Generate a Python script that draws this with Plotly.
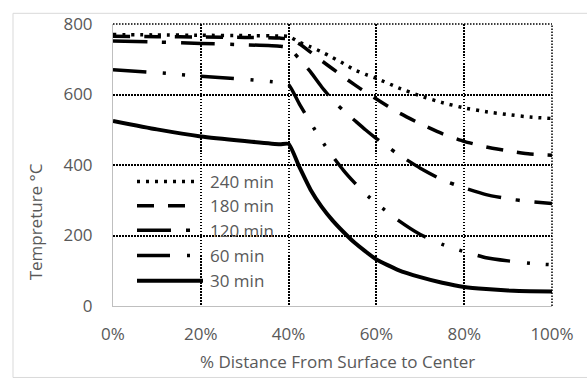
import plotly.graph_objects as go

# ---- data ----
x_pct = [0, 10, 20, 30, 38, 40, 42.5, 45, 47.5, 50, 52.5, 55, 57.5, 60, 65, 70, 75, 80, 85, 90, 95, 100]
t240 = [770, 769, 768, 767, 766, 765, 748, 735, 721, 705, 688, 670, 657, 646, 619, 596, 577, 562, 551, 543, 536, 532]
t180 = [765, 764, 763, 762, 760, 758, 743, 720, 696, 673, 650, 628, 607, 587, 549, 517, 489, 467, 451, 440, 431, 428]
t120 = [752, 749, 745, 741, 737, 733, 700, 664, 622, 585, 554, 527, 500, 475, 430, 391, 358, 335, 316, 304, 296, 291]
t60 = [670, 662, 652, 643, 634, 628, 572, 520, 470, 425, 385, 350, 318, 291, 243, 203, 175, 154, 137, 128, 121, 117]
t30 = [525, 501, 481, 468, 459, 460, 393, 330, 282, 243, 210, 180, 155, 132, 102, 82, 66, 54, 48, 44, 42, 41]

series_names = ["240 min", "180 min", "120 min", "60 min", "30 min"]
series_vals = [t240, t180, t120, t60, t30]
series_dash = ["3px,6px", "17px,14px", "34px,15px,4px,15px",
               "33px,17px,3px,16px,3px,16px", "solid"]
series_width = [3.5, 3.5, 3.5, 3.5, 4]

x_ticks = [0, 20, 40, 60, 80, 100]
x_ticktext = ["0%", "20%", "40%", "60%", "80%", "100%"]
y_ticks = [0, 200, 400, 600, 800]

W, H = 587, 381
L, R, T, B = 113, 552, 16, 306


def px_x(p):
    return (p - L) / (R - L)


def px_y(p):
    return (B - p) / (B - T)


TXT = "#595959"
FONT = "Open Sans"
FS = 17
GRID_DASH = "1.5px,1.5px"

fig = go.Figure()
for name, vals, dash, w in zip(series_names, series_vals, series_dash, series_width):
    fig.add_trace(go.Scatter(
        x=x_pct, y=vals, mode="lines", name=name,
        line=dict(color="black", width=w, dash=dash, shape="spline", smoothing=0.5),
        showlegend=False, hoverinfo="skip",
    ))

shapes = []
annotations = []
# manual legend inside the plot
leg_y = [178, 203, 228, 254, 280]
for i, (name, dash, w) in enumerate(zip(series_names, series_dash, series_width)):
    yy = px_y(leg_y[i])
    x_end = 203 if dash == "solid" else 199
    shapes.append(dict(type="line", xref="paper", yref="paper",
                       x0=px_x(137), x1=px_x(x_end), y0=yy, y1=yy,
                       line=dict(color="black", width=w, dash=dash)))
    annotations.append(dict(text=name, xref="paper", yref="paper",
                            x=px_x(208), y=yy, xanchor="left", yanchor="middle",
                            showarrow=False, font=dict(family=FONT, size=FS, color=TXT)))

# dotted top and right frame lines (grid at 800 and 100%)
shapes.append(dict(type="line", xref="paper", yref="paper", x0=0, x1=1, y0=1, y1=1,
                   line=dict(color="black", width=1.5, dash=GRID_DASH), layer="below"))
shapes.append(dict(type="line", xref="paper", yref="paper", x0=1, x1=1, y0=0, y1=1,
                   line=dict(color="black", width=1.5, dash=GRID_DASH), layer="below"))

# outer chart border
shapes.append(dict(type="rect", xref="paper", yref="paper",
                   x0=px_x(13), x1=px_x(600), y0=px_y(379.5), y1=px_y(5),
                   line=dict(color="#d9d9d9", width=1), layer="below"))

# axis titles
annotations.append(dict(text="% Distance From Surface to Center", xref="paper", yref="paper",
                        x=px_x(337), y=px_y(363), xanchor="center", yanchor="middle",
                        showarrow=False, font=dict(family=FONT, size=FS, color=TXT)))
annotations.append(dict(text="Tempreture \u00b0C", xref="paper", yref="paper",
                        x=px_x(35), y=px_y(220), xanchor="center", yanchor="middle",
                        textangle=-90, showarrow=False,
                        font=dict(family=FONT, size=FS, color=TXT)))

grid = dict(showgrid=True, gridcolor="black", gridwidth=1.5, griddash=GRID_DASH)

fig.update_layout(
    width=W, height=H,
    margin=dict(l=L, r=W - R, t=T, b=H - B),
    paper_bgcolor="white", plot_bgcolor="white",
    shapes=shapes, annotations=annotations,
    xaxis=dict(range=[0, 100], tickvals=x_ticks, ticktext=x_ticktext,
               showline=True, linecolor="#bfbfbf", linewidth=1,
               ticks="outside", ticklen=13, tickcolor="rgba(0,0,0,0)",
               tickfont=dict(family=FONT, size=FS, color=TXT),
               zeroline=False, **grid),
    yaxis=dict(range=[0, 800], tickvals=y_ticks,
               showline=True, linecolor="#bfbfbf", linewidth=1,
               ticks="outside", ticklen=16, tickcolor="rgba(0,0,0,0)",
               tickfont=dict(family=FONT, size=FS, color=TXT),
               zeroline=False, **grid),
)

fig.write_html("out.html")
